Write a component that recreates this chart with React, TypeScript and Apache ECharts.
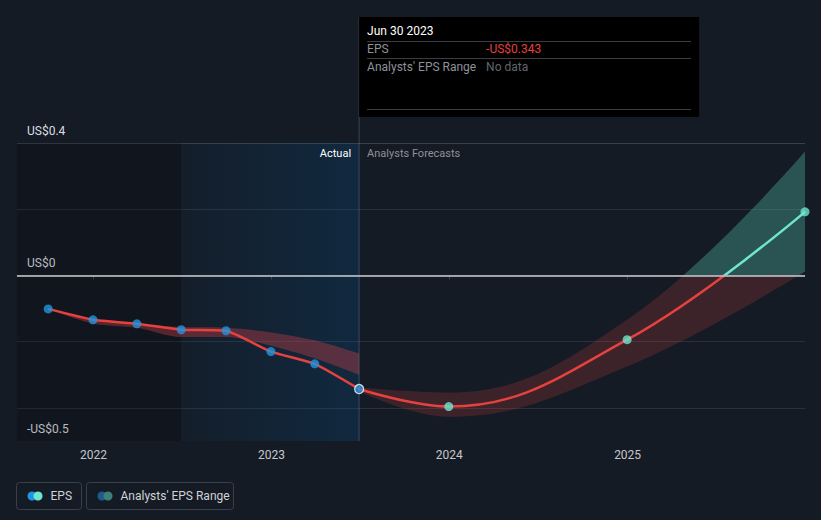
import React, { useEffect, useRef } from 'react';
import * as echarts from 'echarts';

// ---- data ----
const axisStart = '2021-07-28';
const axisEnd = '2025-12-31';
const actualRegionStart = '2022-06-30';
const forecastStart = '2023-06-30';

const actualDates = ['2021-09-30', '2021-12-31', '2022-03-31', '2022-06-30', '2022-09-30', '2022-12-31', '2023-03-31', '2023-06-30'];
const actualEps = [-0.101, -0.134, -0.146, -0.164, -0.167, -0.23, -0.267, -0.343];
const pastRangeLow = [-0.101, -0.145, -0.158, -0.186, -0.186, -0.212, -0.25, -0.3];
const pastRangeHigh = [-0.101, -0.134, -0.146, -0.156, -0.158, -0.172, -0.196, -0.236];

const forecastDates = ['2023-06-30', '2023-12-31', '2024-12-31', '2025-12-31'];
const forecastEps = [-0.343, -0.396, -0.194, 0.192];
const forecastLow = [-0.35, -0.427, -0.275, 0.012];
const forecastHigh = [-0.338, -0.354, -0.134, 0.374];

const yMin = -0.5;
const yMax = 0.4;
const yStep = 0.1;
const yTickLabels = [
  { value: 0.4, text: 'US$0.4' },
  { value: 0, text: 'US$0' },
  { value: -0.5, text: '-US$0.5' },
];
const yGridValues = [0.4, 0.2, -0.2, -0.4];

const tooltipTitle = 'Jun 30 2023';
const tooltipRows = [
  { label: 'EPS', value: '-US$0.343', valueColor: '#e5413f' },
  { label: "Analysts' EPS Range", value: 'No data', valueColor: '#62666d' },
];
const legendItems = [
  { text: 'EPS', colors: ['#2394df', '#6ee6cf'] },
  { text: "Analysts' EPS Range", colors: ['#1f5b8a', '#3a817c'] },
];

const RED = '#e5413f';
const TEAL = '#6ee6cf';
const BLUE = '#2394df';
const FONT = 'Roboto, sans-serif';

function buildOption() {
  const tickCount = Math.round((yMax - yMin) / yStep) + 1;
  const splitColors: string[] = [];
  for (let i = 0; i < tickCount; i++) {
    const v = Math.round((yMin + i * yStep) * 10) / 10;
    const isGrid = yGridValues.some((g) => Math.abs(g - v) < 1e-6);
    splitColors.push(isGrid ? (Math.abs(v - yMax) < 1e-6 ? '#3a3f48' : '#2a3039') : 'rgba(0,0,0,0)');
  }

  const pair = (dates: string[], vals: number[]) => dates.map((d, i) => [d, vals[i]]);
  const diff = (dates: string[], lo: number[], hi: number[]) => dates.map((d, i) => [d, hi[i] - lo[i]]);

  const lastIdx = actualDates.length - 1;

  return {
    animation: false,
    backgroundColor: '#151b24',
    textStyle: { fontFamily: FONT },
    grid: { left: 17, right: 16, top: 143, bottom: 79, containLabel: false },
    xAxis: {
      type: 'time',
      min: axisStart,
      max: axisEnd,
      minInterval: 365 * 24 * 3600 * 1000,
      maxInterval: 366 * 24 * 3600 * 1000,
      axisLine: { show: true, lineStyle: { color: '#3e444e', width: 1 } },
      axisTick: { show: true, length: 4, lineStyle: { color: '#3e444e' } },
      axisLabel: {
        color: '#c4c7cc',
        fontSize: 12,
        margin: 8,
        formatter: '{yyyy}',
        showMinLabel: false,
        showMaxLabel: false,
        fontFamily: FONT,
      },
      splitLine: { show: false },
    },
    yAxis: {
      type: 'value',
      min: yMin,
      max: yMax,
      interval: yStep,
      axisLine: { show: false },
      axisTick: { show: false },
      axisLabel: {
        inside: true,
        margin: 10,
        color: '#dcdee2',
        fontSize: 12,
        fontFamily: FONT,
        verticalAlign: 'bottom',
        padding: [0, 0, 6, 0],
        formatter: (v: number) => {
          const t = yTickLabels.find((l) => Math.abs(l.value - v) < 1e-6);
          return t ? t.text : '';
        },
      },
      splitLine: { show: true, lineStyle: { color: splitColors, width: 1 } },
    },
    visualMap: [
      {
        type: 'piecewise',
        show: false,
        seriesIndex: 5,
        dimension: 1,
        pieces: [
          { gte: -10, lt: 0, color: RED },
          { gte: 0, lte: 10, color: TEAL },
        ],
      },
      {
        type: 'piecewise',
        show: false,
        seriesIndex: 3,
        dimension: 1,
        pieces: [
          { gte: -10, lt: 0, color: 'rgba(229,65,63,0.19)' },
          { gte: 0, lte: 10, color: 'rgba(84,200,180,0.33)' },
        ],
      },
    ],
    series: [
      {
        type: 'line',
        stack: 'past',
        stackStrategy: 'all',
        data: pair(actualDates, pastRangeLow),
        smooth: 0.3,
        symbol: 'none',
        lineStyle: { opacity: 0 },
        silent: true,
        z: 1,
        markArea: {
          silent: true,
          data: [
            [
              { xAxis: axisStart, itemStyle: { color: 'rgba(0,0,0,0.16)' } },
              { xAxis: actualRegionStart },
            ],
            [
              {
                xAxis: actualRegionStart,
                itemStyle: {
                  color: new echarts.graphic.LinearGradient(0, 0, 1, 0, [
                    { offset: 0, color: 'rgba(0,90,160,0.05)' },
                    { offset: 1, color: 'rgba(0,90,160,0.22)' },
                  ]),
                },
                label: {
                  show: true,
                  formatter: 'Actual',
                  position: 'insideTopRight',
                  distance: 5,
                  offset: [-3, 0],
                  color: '#ffffff',
                  fontSize: 11,
                  fontFamily: FONT,
                },
              },
              { xAxis: forecastStart },
            ],
            [
              {
                xAxis: forecastStart,
                itemStyle: { color: 'rgba(0,0,0,0)' },
                label: {
                  show: true,
                  formatter: 'Analysts Forecasts',
                  position: 'insideTopLeft',
                  distance: 5,
                  offset: [3, 0],
                  color: '#8d9198',
                  fontSize: 11,
                  fontFamily: FONT,
                },
              },
              { xAxis: axisEnd },
            ],
          ],
        },
      },
      {
        type: 'line',
        stack: 'past',
        stackStrategy: 'all',
        data: diff(actualDates, pastRangeLow, pastRangeHigh),
        smooth: 0.3,
        symbol: 'none',
        lineStyle: { opacity: 0 },
        areaStyle: { color: 'rgba(205,62,72,0.38)', opacity: 1 },
        silent: true,
        z: 2,
      },
      {
        type: 'line',
        stack: 'fc',
        stackStrategy: 'all',
        data: pair(forecastDates, forecastLow),
        smooth: 0.4,
        symbol: 'none',
        lineStyle: { opacity: 0 },
        silent: true,
        z: 2,
      },
      {
        type: 'line',
        stack: 'fc',
        stackStrategy: 'all',
        data: diff(forecastDates, forecastLow, forecastHigh),
        smooth: 0.4,
        symbol: 'none',
        lineStyle: { opacity: 0 },
        areaStyle: { opacity: 1 },
        silent: true,
        z: 2,
      },
      {
        type: 'line',
        data: pair(actualDates, actualEps),
        smooth: 0.15,
        symbol: 'none',
        lineStyle: { color: RED, width: 2.5 },
        silent: true,
        z: 3,
      },
      {
        type: 'line',
        data: pair(forecastDates, forecastEps),
        smooth: 0.4,
        symbol: 'none',
        lineStyle: { width: 2.5 },
        silent: true,
        z: 3,
        markLine: {
          silent: true,
          symbol: 'none',
          label: { show: false },
          lineStyle: { color: '#c9cbcf', width: 1.5, type: 'solid' },
          data: [{ yAxis: 0 }],
        },
      },
      {
        type: 'scatter',
        data: actualDates.map((d, i) =>
          i === lastIdx
            ? { value: [d, actualEps[i]], itemStyle: { borderColor: '#ffffff', borderWidth: 1.2 } }
            : [d, actualEps[i]]
        ),
        symbolSize: 9,
        itemStyle: { color: BLUE },
        silent: true,
        z: 5,
      },
      {
        type: 'scatter',
        data: pair(forecastDates.slice(1), forecastEps.slice(1)),
        symbolSize: 9,
        itemStyle: { color: TEAL },
        silent: true,
        z: 5,
      },
    ],
  };
}

function buildOverlay(chart: echarts.ECharts) {
  const px = chart.convertToPixel({ xAxisIndex: 0 }, echarts.time.parse(forecastStart).getTime()) as number;
  const bottom = chart.convertToPixel({ yAxisIndex: 0 }, yMin) as number;
  const boxTop = 17;
  const boxW = 340;
  const boxH = 100;
  const tx = px + 8;
  const valueX = px + 127;
  const elements: any[] = [];

  elements.push({
    type: 'line',
    silent: true,
    shape: { x1: px, y1: boxTop, x2: px, y2: bottom },
    style: { stroke: 'rgba(160,175,195,0.28)', lineWidth: 1 },
    z: 10,
  });
  elements.push({
    type: 'rect',
    silent: true,
    shape: { x: px, y: boxTop, width: boxW, height: boxH },
    style: { fill: '#000000' },
    z: 11,
  });
  elements.push({
    type: 'text',
    silent: true,
    x: tx,
    y: boxTop + 14,
    style: { text: tooltipTitle, fill: '#ffffff', fontSize: 12, fontFamily: FONT, verticalAlign: 'middle' },
    z: 12,
  });
  const sepYs = [boxTop + 24.5, boxTop + 41.5, boxTop + 92.5];
  sepYs.forEach((y) =>
    elements.push({
      type: 'line',
      silent: true,
      shape: { x1: tx, y1: y, x2: px + boxW - 8, y2: y },
      style: { stroke: '#3b3d42', lineWidth: 1 },
      z: 12,
    })
  );
  tooltipRows.forEach((r, i) => {
    const y = boxTop + 31.5 + i * 18;
    elements.push({
      type: 'text',
      silent: true,
      x: tx,
      y,
      style: { text: r.label, fill: '#8e9197', fontSize: 12, fontFamily: FONT, verticalAlign: 'middle' },
      z: 12,
    });
    elements.push({
      type: 'text',
      silent: true,
      x: valueX,
      y,
      style: { text: r.value, fill: r.valueColor, fontSize: 12, fontFamily: FONT, verticalAlign: 'middle' },
      z: 12,
    });
  });

  // legend
  let lx = 16.5;
  const ly = 482.5;
  const lh = 27;
  const widths = [65, 147];
  legendItems.forEach((item, i) => {
    const w = widths[i];
    elements.push({
      type: 'rect',
      silent: true,
      shape: { x: lx, y: ly, width: w, height: lh, r: 3 },
      style: { fill: 'none', stroke: '#3a404a', lineWidth: 1 },
      z: 10,
    });
    elements.push({
      type: 'circle',
      silent: true,
      shape: { cx: lx + 15.5, cy: ly + lh / 2, r: 4.5 },
      style: { fill: item.colors[0] },
      z: 11,
    });
    elements.push({
      type: 'circle',
      silent: true,
      shape: { cx: lx + 21.5, cy: ly + lh / 2, r: 4.5 },
      style: { fill: item.colors[1] },
      z: 12,
    });
    elements.push({
      type: 'text',
      silent: true,
      x: lx + 34,
      y: ly + lh / 2,
      style: { text: item.text, fill: '#cfd2d6', fontSize: 12, fontFamily: FONT, verticalAlign: 'middle' },
      z: 12,
    });
    lx += w + 5;
  });
  return elements;
}

export default function App() {
  const ref = useRef<HTMLDivElement>(null);
  useEffect(() => {
    if (!ref.current) return;
    const chart = echarts.init(ref.current, null, { renderer: 'svg' });
    chart.setOption(buildOption() as any);
    chart.setOption({ graphic: buildOverlay(chart) } as any);
    return () => chart.dispose();
  }, []);
  return (
    <div
      ref={ref}
      style={{ position: 'fixed', left: 0, top: 0, width: 821, height: 520, background: '#151b24' }}
    />
  );
}
